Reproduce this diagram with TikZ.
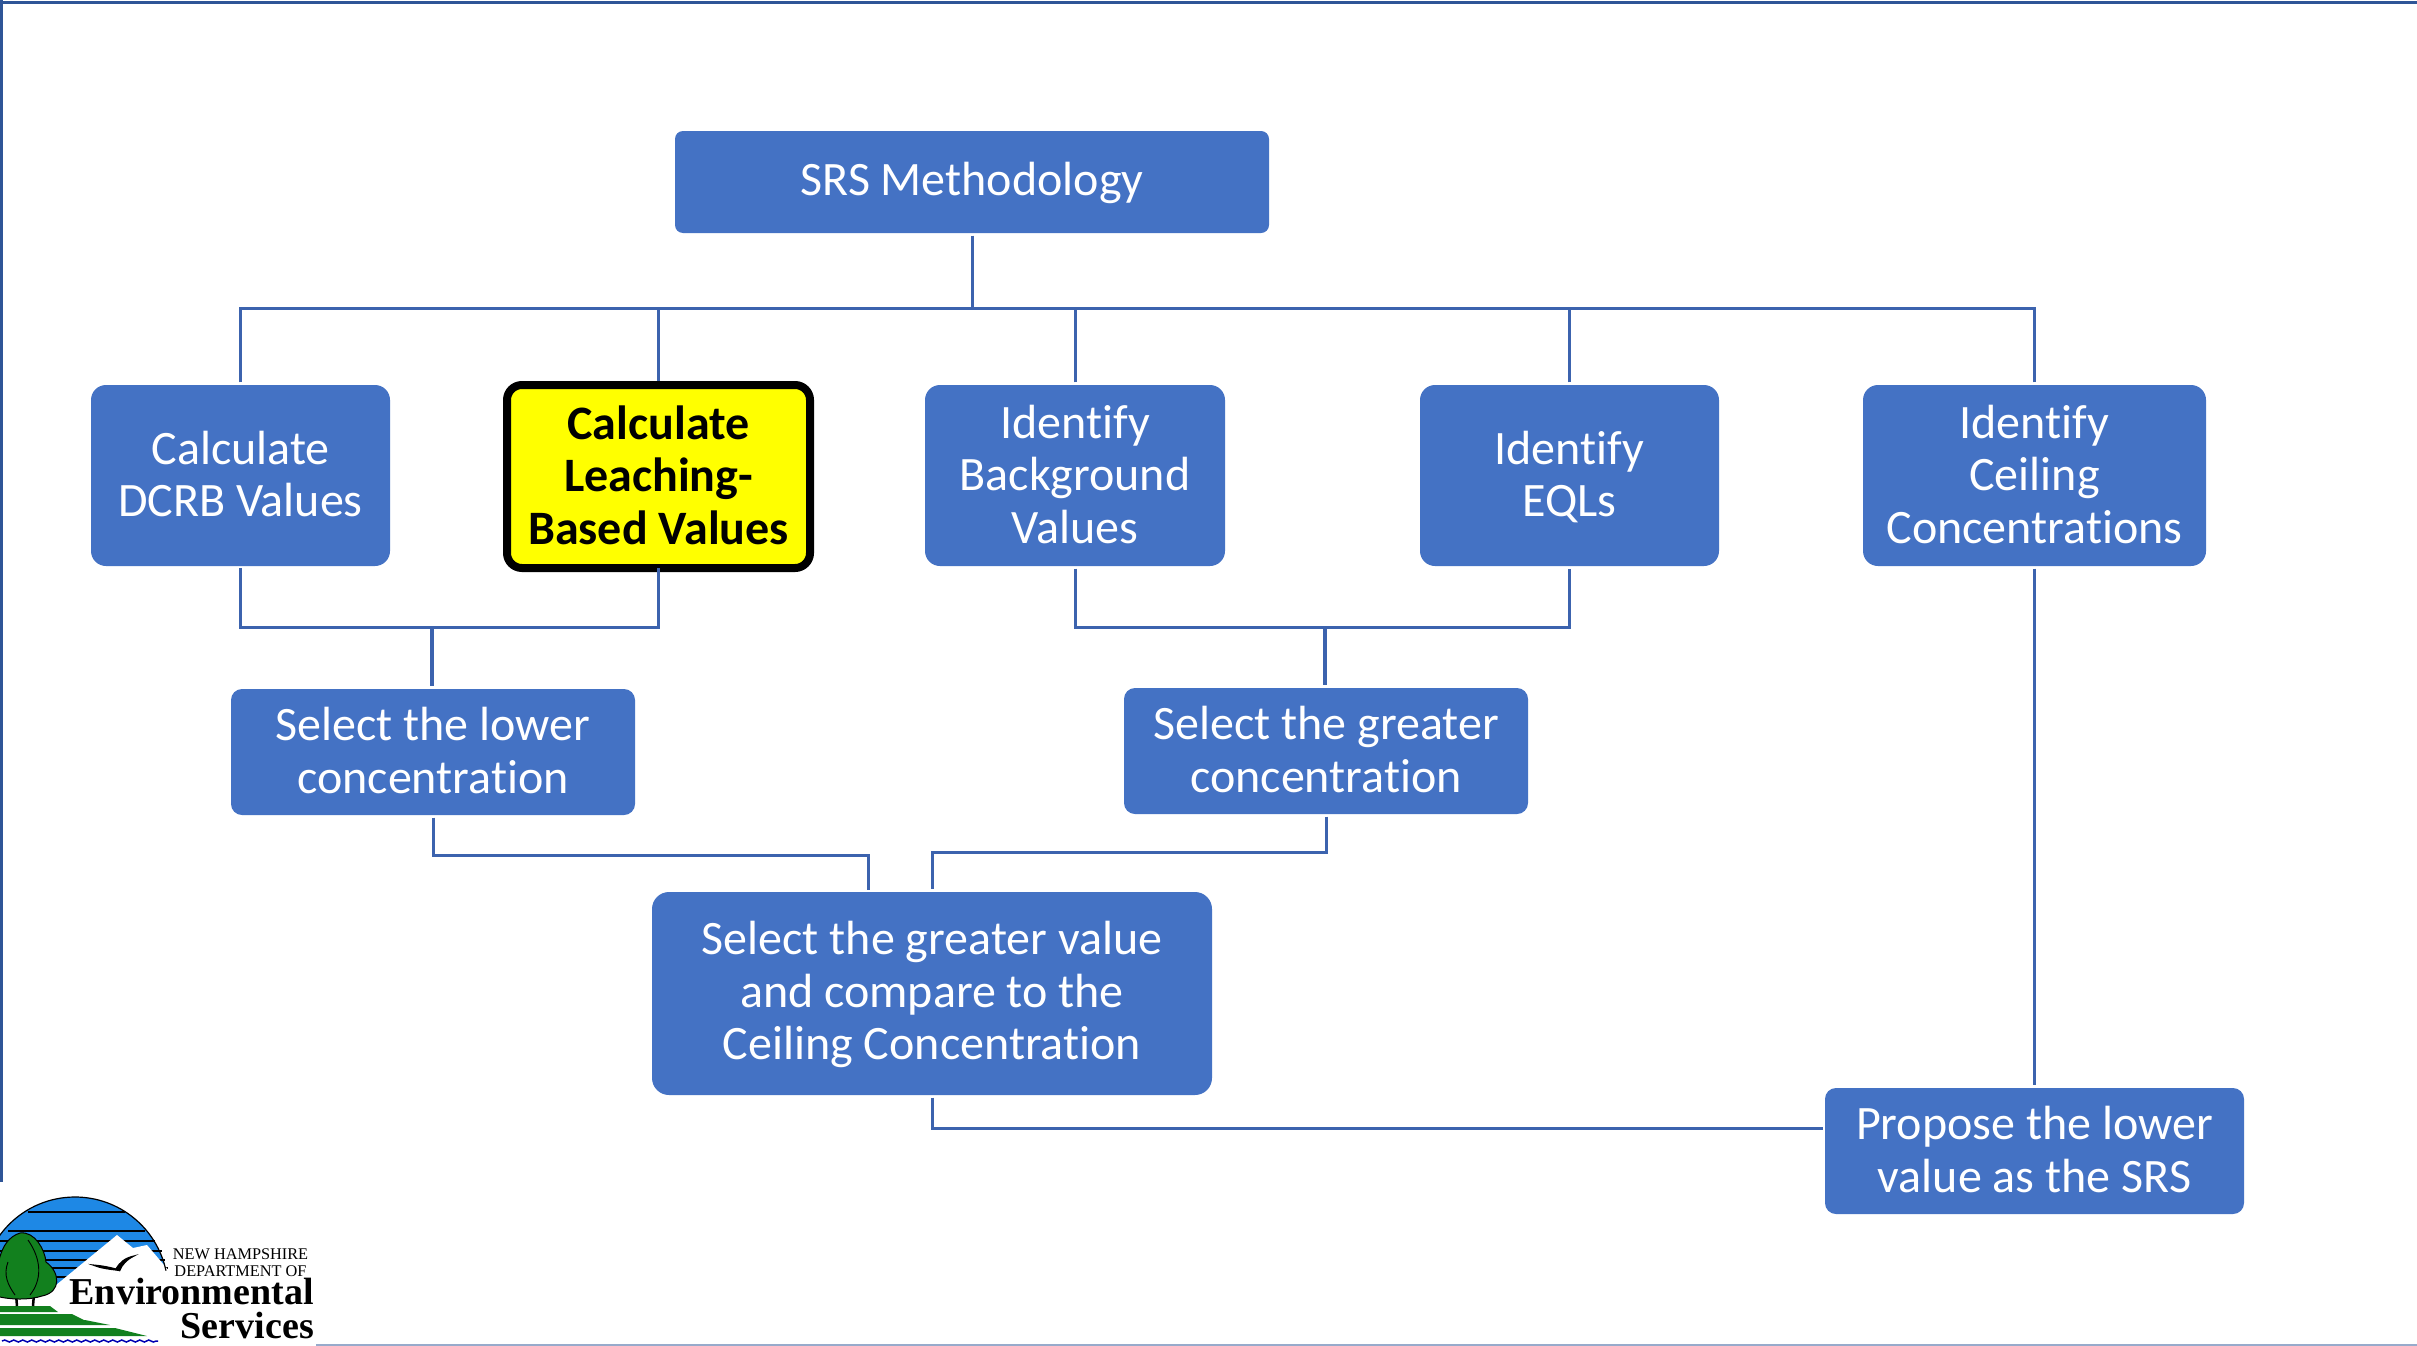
\documentclass[tikz,border=0pt]{standalone}
\usepackage{fontspec}
\setmainfont{Carlito}[Ligatures=NoCommon]
\newfontfamily\logoserif{Liberation Serif}
\usetikzlibrary{decorations.pathmorphing}
\newcommand\tstrut{\rule{0pt}{36pt}}
\newcommand\bstrut{\rule[-6pt]{0pt}{6pt}}
\definecolor{boxblue}{HTML}{4472C4}
\definecolor{linkblue}{HTML}{3C63AE}
\definecolor{framenavy}{HTML}{2F5597}
\definecolor{logoblue}{HTML}{1E88E5}
\definecolor{logogreen}{HTML}{12801E}
\definecolor{hiyellow}{HTML}{FFFF00}
\tikzset{
  x=1pt,y=-1pt,
  box/.style={draw=none,fill=boxblue,text=white,rounded corners=15pt,inner sep=0pt,align=center,
    font=\fontsize{48}{52.5}\selectfont},
  smallbox/.style={box,rounded corners=11pt},
  hibox/.style={draw=black,line width=8pt,fill=hiyellow,text=black,rounded corners=15pt,inner sep=0pt,align=center,
    font=\fontsize{48}{52.5}\selectfont\bfseries},
  conn/.style={draw=linkblue,line width=3pt,shorten <=2.5pt,shorten >=2.5pt},
  connthick/.style={conn,line width=4pt},
  leaf/.style={fill=logogreen,draw=black,line width=1pt},
}
\begin{document}
\begin{tikzpicture}
\useasboundingbox (0,0) rectangle (2417,1346);
\fill[white] (0,0) rectangle (2417,1346);
% frame
\draw[framenavy,line width=3pt] (0,3) -- (2417,3);
\draw[framenavy,line width=3pt] (1,0) -- (1,1182);
\draw[framenavy!50,line width=2pt] (316,1345) -- (2417,1345);
% boxes
\node[box,rounded corners=8pt,minimum width=594pt,minimum height=102pt] (srs) at (972,182) {\rule{0pt}{36pt}\rule[-10pt]{0pt}{10pt}SRS Methodology};
\node[box,minimum width=299pt,minimum height=181pt] (dcrb) at (240.5,475.5) {\tstrut Calculate\\DCRB Values\bstrut};
\node[hibox,minimum width=303pt,minimum height=183pt] (leach) at (658.5,476.5) {\tstrut Calculate\\Leaching-\\Based Values\bstrut};
\node[box,minimum width=300pt,minimum height=181pt] (bg) at (1075,475.5) {\tstrut Identify\\Background\\Values\bstrut};
\node[box,minimum width=299pt,minimum height=181pt] (eql) at (1569.5,475.5) {\tstrut Identify\\EQLs\bstrut};
\node[box,minimum width=343pt,minimum height=181pt] (ceil) at (2034.5,475.5) {\tstrut Identify\\Ceiling\\Concentrations\bstrut};
\node[smallbox,minimum width=404pt,minimum height=126pt] (low) at (433,752) {\tstrut Select the lower\\concentration\bstrut};
\node[smallbox,minimum width=404pt,minimum height=126pt] (great) at (1326,751) {\tstrut Select the greater\\concentration\bstrut};
\node[box,rounded corners=17pt,minimum width=560pt,minimum height=203pt] (val) at (932,993.5) {\tstrut Select the greater value\\and compare to the\\Ceiling Concentration\bstrut};
\node[smallbox,minimum width=419pt,minimum height=126pt] (srsout) at (2034.5,1151) {\tstrut Propose the lower\\value as the SRS\bstrut};
% junction coordinates
\coordinate (bus) at (972,308);
\coordinate (lowjoin) at (432,627);
\coordinate (greatjoin) at (1325,627);
\coordinate (valleft) at (868,892);
\coordinate (outleft) at (1825,1128);
% connectors
\draw[conn,shorten >=0pt] (srs.south) -- (bus);
\draw[conn,shorten >=0pt] (dcrb.north) |- (bus);
\draw[conn,shorten <=0pt,shorten >=0pt] (leach.north) -- (leach.north |- bus);
\draw[conn,shorten >=0pt] (bg.north) -- (bg.north |- bus);
\draw[conn,shorten >=0pt] (eql.north) -- (eql.north |- bus);
\draw[conn,shorten >=0pt] (ceil.north) |- (bus);
\draw[conn,shorten <=2pt,shorten >=0pt] (dcrb.south) |- (lowjoin);
\draw[conn,shorten <=-4pt,shorten >=0pt] (leach.south) |- (lowjoin);
\draw[connthick,shorten <=0pt] (lowjoin) -- (lowjoin |- low.north);
\draw[conn] (bg.south) |- (greatjoin) -| (eql.south);
\draw[connthick,shorten <=0pt] (greatjoin) -- (greatjoin |- great.north);
\draw[conn] (low.south) |- (850,855) -| (valleft);
\draw[conn] (great.south) |- (1000,852) -| (val.north);
\draw[conn] (val.south) |- (outleft);
\draw[conn] (ceil.south) -- (srsout.north);
% logo
\begin{scope}
\clip (0,1190) rectangle (320,1346);
\fill[logoblue] (75,1290) circle (93);
\fill[white] (-20,1290) rectangle (175,1346);
\foreach \yy/\xa/\xb in {1212/28/125,1231/8/145,1241/0/155,1251/0/162,1260/0/165,1268/0/168,1277/0/170}
  \draw[black,line width=1.6pt] (\xa,\yy) -- (\xb,\yy);
\fill[white] (50,1290) -- (117,1235) -- (133,1248) -- (147,1245) -- (170,1272) -- (178,1346) -- (50,1346) -- cycle;
\draw[black,line width=1.2pt] (-18,1290) arc (180:348:93);
% ground stripes
\fill[logogreen] (0,1306) -- (50,1306) -- (58,1312) -- (0,1312) -- cycle;
\fill[logogreen] (0,1314) -- (72,1314) -- (84,1320) -- (0,1320) -- cycle;
\fill[logogreen] (0,1320) -- (85,1320) -- (110,1325) -- (0,1325) -- cycle;
\fill[logogreen] (0,1328) -- (115,1328) -- (147,1336) -- (0,1336) -- cycle;
% tree
\draw[black,line width=2.5pt] (16,1294) -- (17,1306);
\draw[black,line width=2.5pt] (34,1294) -- (33,1306);
\draw[leaf] (-4,1296) .. controls (-4,1270) and (-2,1240) .. (20,1233)
  .. controls (35,1231) and (45,1250) .. (46,1262)
  .. controls (60,1272) and (62,1292) .. (42,1296)
  .. controls (30,1300) and (10,1300) .. (-4,1296) -- cycle;
\draw[black,line width=0.9pt] (28,1240) .. controls (42,1260) and (42,1280) .. (30,1295);
\draw[black,line width=0.9pt] (8,1262) .. controls (3,1275) and (8,1285) .. (15,1295);
% water
\draw[blue!70!black,line width=1.5pt,decorate,decoration={snake,amplitude=1pt,segment length=9pt}] (2,1341) -- (158,1341);
% bird
\draw[black,line width=1.2pt,fill=black] (93,1265) .. controls (105,1266) and (112,1268) .. (116,1269) .. controls (120,1262) and (125,1258) .. (134,1256) .. controls (126,1260) and (122,1265) .. (120,1270) .. controls (120,1272) and (118,1269) .. (116,1270) .. controls (108,1269) and (100,1268) .. (93,1265) -- cycle;
\end{scope}
\node[inner sep=0pt,anchor=center,font=\logoserif\fontsize{16.3}{16}\selectfont] (nh) at (240.5,1254.5) {NEW HAMPSHIRE};
\node[inner sep=0pt,anchor=center,font=\logoserif\fontsize{16.3}{16}\selectfont] (dep) at (240.5,1271.5) {DEPARTMENT OF};
\node[inner sep=0pt,anchor=base east,font=\logoserif\bfseries\fontsize{38}{38}\selectfont] (env) at (314,1304) {Environmental};
\node[inner sep=0pt,anchor=base east,font=\logoserif\bfseries\fontsize{38}{38}\selectfont] (svc) at (314,1338) {Services};
\end{tikzpicture}
\end{document}
